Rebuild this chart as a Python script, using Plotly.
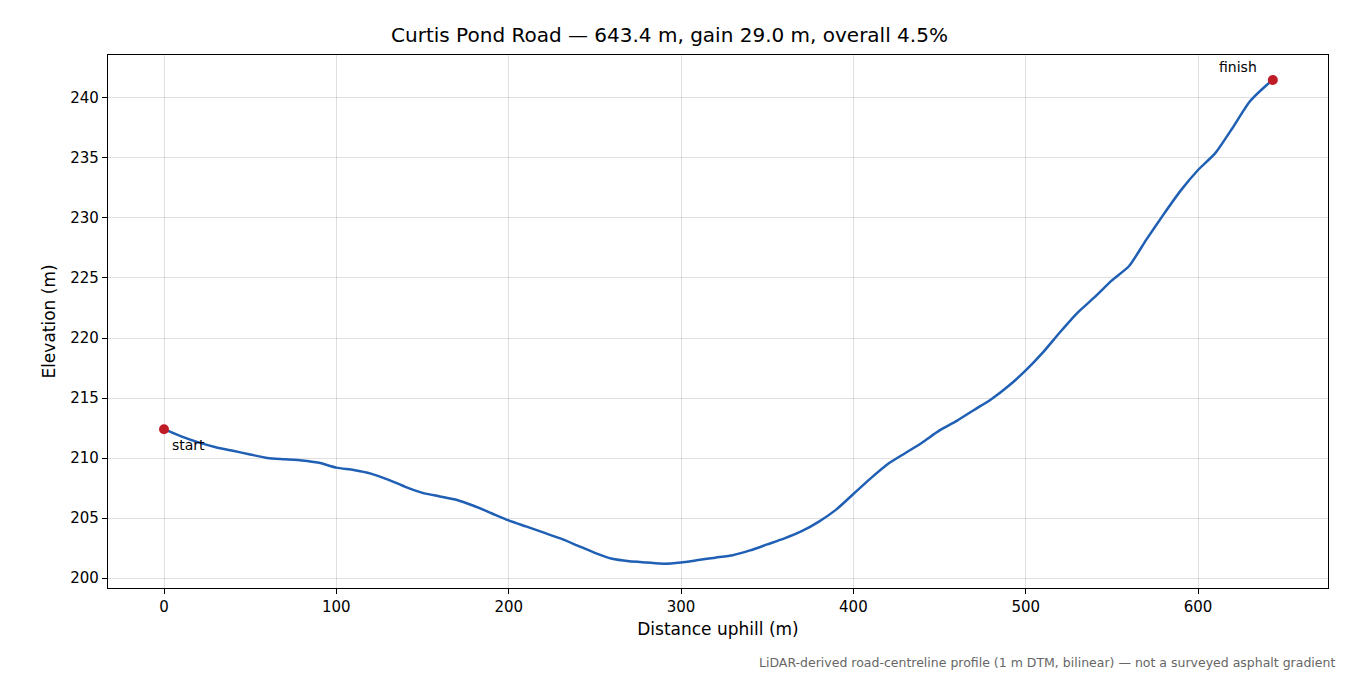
import plotly.graph_objects as go

dist = [0,10,20,30,40,50,60,70,80,90,100,110,120,130,140,150,160,170,180,190,200,210,220,230,240,250,260,270,280,290,300,310,320,330,340,350,360,370,380,390,400,410,420,430,440,450,460,470,480,490,500,510,520,530,540,550,560,570,580,590,600,610,620,630,640,643.4]
elev = [212.4,211.8,211.3,210.9,210.6,210.3,210.0,209.9,209.8,209.6,209.2,209.0,208.7,208.2,207.6,207.1,206.8,206.5,206.0,205.4,204.8,204.3,203.8,203.3,202.7,202.1,201.6,201.4,201.3,201.2,201.3,201.5,201.7,201.9,202.3,202.8,203.3,203.9,204.7,205.7,207.0,208.3,209.5,210.4,211.3,212.3,213.1,214.0,214.9,216.0,217.3,218.8,220.5,222.1,223.4,224.8,226.0,228.2,230.3,232.3,234.0,235.4,237.5,239.7,241.1,241.5]

F = "DejaVu Sans"
fig = go.Figure()
fig.add_trace(go.Scatter(x=dist, y=elev, mode="lines", line=dict(color="#1f5fb4", width=2.5, shape="spline", smoothing=0.6), showlegend=False))
fig.add_trace(go.Scatter(x=[dist[0], dist[-1]], y=[elev[0], elev[-1]], mode="markers",
                         marker=dict(color="#c01c28", size=10), showlegend=False))
fig.add_annotation(x=dist[0], y=elev[0], text="start", showarrow=False, xanchor="left", yanchor="top",
                   xshift=6, yshift=-6, font=dict(family=F, size=14, color="black"))
fig.add_annotation(x=dist[-1], y=elev[-1], text="finish", showarrow=False, xanchor="right", yanchor="bottom",
                   xshift=-14, yshift=3, font=dict(family=F, size=14, color="black"))
fig.add_annotation(xref="paper", yref="paper", x=1.007, y=-0.122, text="LiDAR-derived road-centreline profile (1 m DTM, bilinear) — not a surveyed asphalt gradient",
                   showarrow=False, xanchor="right", yanchor="top", font=dict(family=F, size=12.5, color="#666"))
ax = dict(showline=True, mirror=True, linecolor="black", linewidth=1.2, ticks="outside", ticklen=5,
          tickcolor="black", showgrid=True, gridcolor="rgba(0,0,0,0.12)", zeroline=False,
          tickfont=dict(family=F, size=15, color="black"))
fig.update_layout(
    width=1350, height=675, plot_bgcolor="white", paper_bgcolor="white",
    margin=dict(l=100, r=30, t=47, b=95),
    title=dict(text="Curtis Pond Road — 643.4 m, gain 29.0 m, overall 4.5%", x=0.49, xanchor="center", y=0.97,
               font=dict(family=F, size=20, color="black")),
    xaxis=dict(range=[-32.5, 675.4], dtick=100, title=dict(text="Distance uphill (m)", font=dict(family=F, size=17, color="black"), standoff=8), **ax),
    yaxis=dict(range=[199.17, 243.58], dtick=5, title=dict(text="Elevation (m)", font=dict(family=F, size=17, color="black"), standoff=10), **ax),
)
fig.write_html("out.html")
